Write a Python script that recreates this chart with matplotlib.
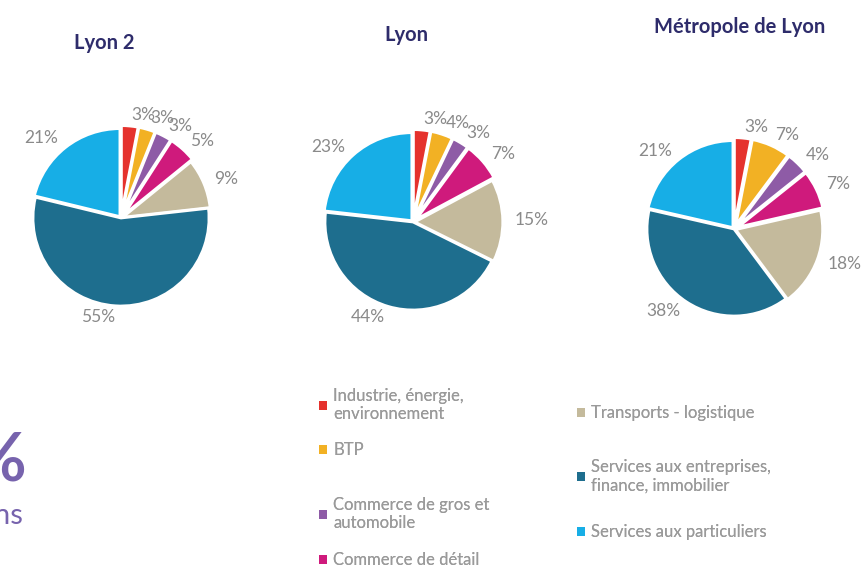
import matplotlib
matplotlib.use("Agg")
import matplotlib.pyplot as plt
from matplotlib.patches import Patch

plt.rcParams['font.family'] = ['Lato', 'DejaVu Sans']

W, H = 866, 565

sectors = ["Industrie, énergie,\nenvironnement", "BTP", "Commerce de gros et\nautomobile",
           "Commerce de détail", "Transports - logistique",
           "Services aux entreprises,\nfinance, immobilier", "Services aux particuliers"]
colors = ["#E5322D", "#F2B124", "#8E5BA6", "#CF1A7C", "#C4BA9C", "#1E6E8E", "#17AEE6"]

titles = ["Lyon 2", "Lyon", "Métropole de Lyon"]
lyon2 = [3, 3, 3, 5, 9, 55, 21]
lyon = [3, 4, 3, 7, 15, 44, 23]
metropole = [3, 7, 4, 7, 18, 38, 21]
series = [lyon2, lyon, metropole]

# pixel layout: (center x, center y, radius, title x, title y)
layout = [(121, 218, 88, 104, 43), (413, 222, 88, 406, 35), (734, 229, 87, 740, 27)]
# legend entry anchors in pixels (x, y centre)
legend_pos = [(304, 405), (304, 450), (304, 514), (304, 560),
              (562, 413), (562, 476), (562, 532)]

fig = plt.figure(figsize=(W / 100, H / 100), dpi=100)
fig.patch.set_facecolor("white")

explode = [0.05, 0.05, 0.05, 0.05, 0.02, 0.0, 0.02]
for vals, title, (cx, cy, r, tx, ty) in zip(series, titles, layout):
    ax = fig.add_axes([(cx - r) / W, 1 - (cy + r) / H, 2 * r / W, 2 * r / H])
    ax.pie(vals, colors=colors, startangle=90, counterclock=False,
           labels=[f"{v}%" for v in vals], labeldistance=1.13, explode=explode,
           wedgeprops=dict(edgecolor="white", linewidth=2),
           textprops=dict(color="#8a8a8a", fontsize=12.5))
    ax.set_xlim(-1, 1)
    ax.set_ylim(-1, 1)
    ax.set_aspect("equal")
    ax.axis("off")
    fig.text(tx / W, 1 - ty / H, title, ha="center", va="center",
             fontsize=14.5, fontweight="bold", color="#2E2C6B")

for label, color, (lx, ly) in zip(sectors, colors, legend_pos):
    leg = fig.legend([Patch(facecolor=color, edgecolor="none")], [label],
                     loc="center left", bbox_to_anchor=(lx / W, 1 - ly / H),
                     frameon=False, fontsize=12, labelcolor="#9a9a9a",
                     handlelength=0.45, handleheight=0.45, handletextpad=0.4)
    fig.add_artist(leg)

# cropped page text on the left edge
fig.text(26 / W, 1 - 462 / H, "%", ha="right", va="center", fontsize=48,
         fontweight="bold", color="#7763AD")
fig.text(23 / W, 1 - 516 / H, "ns", ha="right", va="center", fontsize=21,
         color="#7763AD")

fig.savefig("out.png", dpi=100, facecolor="white")
